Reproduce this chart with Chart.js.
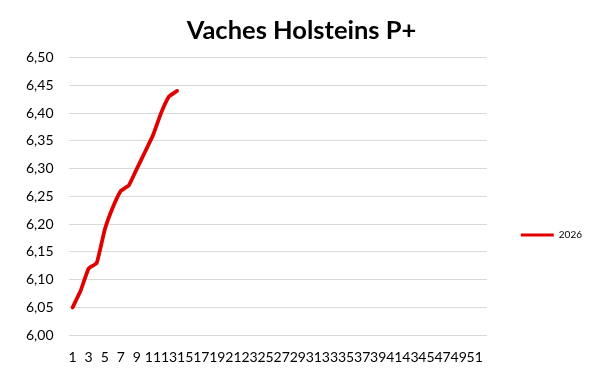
<!DOCTYPE html>
<html lang="fr">
<head>
  <meta charset="UTF-8" />
  <title>Vaches Holsteins P+</title>
  <script src="https://cdn.jsdelivr.net/npm/chart.js"></script>
  <style>
    body { margin: 0; background: #fff; }
    .wrap { width: 600px; height: 375px; }
  </style>
</head>
<body>
  <div class="wrap"><canvas id="chart"></canvas></div>
  <script>
    // semaines 1..52, valeurs lues pour 2026
    const weeks = Array.from({ length: 52 }, (_, i) => String(i + 1));
    const values2026 = [6.05, 6.08, 6.12, 6.13, 6.19, 6.23, 6.26, 6.27, 6.30, 6.33, 6.36, 6.40, 6.43, 6.44];
    const seriesName = '2026';
    const chartTitle = 'Vaches Holsteins P+';

    const font = "Lato, 'Open Sans', sans-serif";
    const red = '#e00000';

    new Chart(document.getElementById('chart'), {
      type: 'line',
      data: {
        labels: weeks,
        datasets: [{
          label: seriesName,
          data: values2026,
          borderColor: red,
          backgroundColor: red,
          borderWidth: 3.8,
          pointRadius: 0,
          tension: 0.12,
          borderCapStyle: 'round',
          borderJoinStyle: 'round'
        }]
      },
      options: {
        responsive: true,
        maintainAspectRatio: false,
        animation: false,
        layout: { padding: { left: 11, right: 8, top: 0, bottom: 3 } },
        plugins: {
          title: {
            display: true,
            text: chartTitle,
            color: '#000',
            font: { family: font, size: 25.5, weight: 'bold' },
            padding: { top: 15, bottom: 12 }
          },
          legend: {
            position: 'right',
            maxWidth: 114,
            title: { display: true, text: ' ', font: { size: 10 }, padding: { top: 86, bottom: 0 } },
            labels: {
              color: '#000',
              font: { family: font, size: 10 },
              boxWidth: 33,
              boxHeight: 3,
              padding: 34,
              generateLabels: chart => Chart.defaults.plugins.legend.labels.generateLabels(chart)
                .map(it => Object.assign(it, { lineWidth: 0 }))
            }
          },
          tooltip: { enabled: false }
        },
        scales: {
          x: {
            offset: true,
            grid: { display: false },
            border: { display: false },
            ticks: {
              autoSkip: false,
              maxRotation: 0,
              color: '#000',
              font: { family: font, size: 14 },
              padding: 6,
              callback: (v, i) => (i % 2 === 0 ? weeks[i] : '')
            }
          },
          y: {
            min: 6.0,
            max: 6.5,
            grid: { color: '#d9d9d9', drawTicks: false },
            border: { display: false },
            ticks: {
              stepSize: 0.05,
              color: '#000',
              font: { family: font, size: 14 },
              padding: 15,
              callback: v => v.toFixed(2).replace('.', ',')
            }
          }
        }
      }
    });
  </script>
</body>
</html>
